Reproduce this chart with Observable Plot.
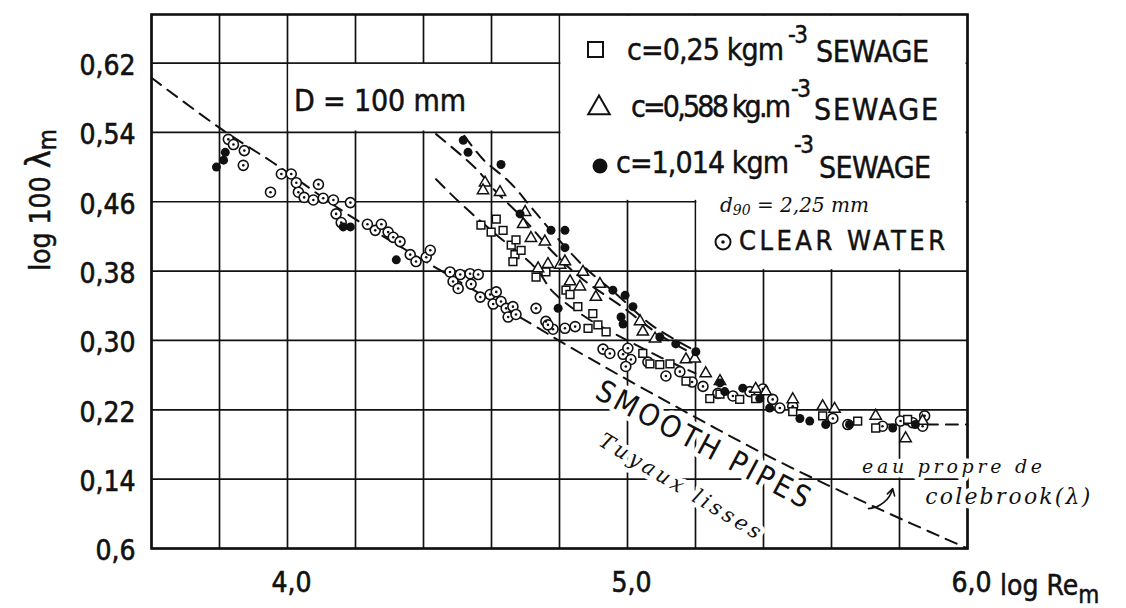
<!DOCTYPE html>
<html>
<head>
<meta charset="utf-8">
<script src="https://cdn.jsdelivr.net/npm/d3@7"></script>
<script src="https://cdn.jsdelivr.net/npm/@observablehq/plot@0.6"></script>
<style>
  html, body { margin: 0; padding: 0; background: #fff; }
  #chart svg { display: block; }
</style>
</head>
<body>
<div id="chart"></div>
<script>
// Technical lettering and the handwritten notes
const FONT = '"Liberation Sans Narrow","DejaVu Sans Condensed","DejaVu Sans",sans-serif';
const HAND = '"DejaVu Serif","Liberation Serif",serif';
const INK = "#111";

// Grid and tick labels (log Re_m on x, log 100 λ_m on y)
const xGrid = [3.6, 3.8, 4.0, 4.2, 4.4, 4.6, 4.8, 5.0, 5.2, 5.4, 5.6, 5.8, 6.0];
const yGrid = [0.06, 0.14, 0.22, 0.30, 0.38, 0.46, 0.54, 0.62];
const xTicks = [4.0, 5.0, 6.0];
const xTickLabels = ["4,0", "5,0", "6,0"];
const yTicks = [0.06, 0.14, 0.22, 0.30, 0.38, 0.46, 0.54, 0.62];
const yTickLabels = ["0,6", "0,14", "0,22", "0,30", "0,38", "0,46", "0,54", "0,62"];

// Measurements: [log Re_m, log 100 λ_m]
const clearWater = [
  [3.826,0.532],[3.841,0.526],[3.873,0.519],[3.870,0.502],[3.950,0.471],[3.982,0.492],
  [4.011,0.492],[4.026,0.482],[4.032,0.471],[4.049,0.465],[4.091,0.480],[4.076,0.462],
  [4.105,0.464],[4.135,0.462],[4.185,0.459],[4.143,0.446],[4.158,0.436],[4.235,0.434],
  [4.258,0.427],[4.276,0.434],[4.296,0.425],[4.311,0.419],[4.331,0.414],[4.361,0.399],
  [4.378,0.391],[4.408,0.396],[4.420,0.404],[4.478,0.379],[4.487,0.368],[4.508,0.376],
  [4.537,0.377],[4.540,0.365],[4.561,0.376],[4.502,0.360],[4.567,0.350],[4.596,0.353],
  [4.614,0.356],[4.605,0.342],[4.628,0.345],[4.643,0.337],[4.663,0.339],[4.649,0.327],
  [4.672,0.330],[4.731,0.337],[4.760,0.322],[4.781,0.313],[4.766,0.318],[4.816,0.314],
  [4.846,0.316],[4.928,0.290],[4.948,0.285],[4.987,0.284],[5.001,0.291],[5.010,0.278],
  [4.995,0.270],[5.060,0.275],[5.113,0.259],[5.154,0.264],[5.190,0.252],[5.222,0.247],
  [5.266,0.239],[5.310,0.236],[5.360,0.241],[5.398,0.244],[5.427,0.232],[5.448,0.222],
  [5.486,0.224],[5.604,0.210],[5.648,0.203],[5.750,0.201],[5.803,0.207],[5.839,0.205],
  [5.868,0.201],[5.874,0.213]
];
const sewage025 = [
  [4.569,0.433],[4.599,0.425],[4.614,0.440],[4.634,0.427],[4.658,0.410],[4.672,0.416],
  [4.669,0.399],[4.687,0.404],[4.663,0.391],[4.731,0.373],[4.760,0.379],[4.819,0.358],
  [4.831,0.353],[4.854,0.339],[4.898,0.331],[4.884,0.314],[4.913,0.318],[4.937,0.310],
  [5.045,0.285],[5.066,0.273],[5.095,0.272],[5.125,0.273],[5.172,0.253],[5.242,0.233],
  [5.272,0.238],[5.330,0.232],[5.377,0.233],[5.486,0.218],[5.574,0.213],[5.677,0.207],
  [5.730,0.199],[5.824,0.209]
];
const sewage0588 = [
  [4.581,0.482],[4.575,0.473],[4.625,0.471],[4.699,0.448],[4.693,0.434],[4.716,0.418],
  [4.757,0.414],[4.737,0.383],[4.766,0.388],[4.802,0.387],[4.816,0.391],[4.869,0.379],
  [4.860,0.362],[4.831,0.368],[4.919,0.365],[4.907,0.350],[5.037,0.322],[5.045,0.310],
  [5.081,0.302],[5.172,0.278],[5.198,0.279],[5.230,0.262],[5.272,0.253],[5.377,0.244],
  [5.407,0.241],[5.486,0.232],[5.574,0.224],[5.609,0.221],[5.730,0.213],[5.868,0.207],
  [5.818,0.187]
];
const sewage1014 = [
  [3.791,0.500],[3.817,0.517],[3.812,0.508],[4.164,0.431],[4.185,0.431],[4.320,0.393],
  [4.517,0.531],[4.531,0.517],[4.628,0.503],[4.684,0.446],[4.775,0.427],[4.816,0.427],
  [4.816,0.407],[4.796,0.337],[4.957,0.358],[4.993,0.352],[5.016,0.339],[4.981,0.327],
  [4.987,0.319],[5.095,0.304],[5.142,0.296],[5.201,0.287],[5.272,0.251],[5.286,0.241],
  [5.339,0.245],[5.389,0.233],[5.418,0.222],[5.507,0.210],[5.536,0.207],[5.583,0.203],
  [5.653,0.203],[5.780,0.199],[5.847,0.203]
];

// Fitted dashed curves
const smoothPipeCurve = [
  [3.600,0.603],[3.812,0.542],[3.958,0.505],[4.179,0.445],[4.449,0.381],[4.743,0.313],
  [4.819,0.295],[5.104,0.232],[5.427,0.164],[5.721,0.109],[6.000,0.060]
];
const roughAsymptote = [[5.76,0.203],[6.00,0.203]];
const curve025 = [
  [4.437,0.486],[4.496,0.463],[4.546,0.445],[4.614,0.422],[4.731,0.383],[4.781,0.356],
  [4.884,0.325],[5.000,0.300],[5.100,0.280],[5.200,0.262]
];
const curve0588 = [
  [4.437,0.538],[4.555,0.498],[4.605,0.475],[4.700,0.438],[4.780,0.402],[4.870,0.370],
  [4.980,0.340],[5.100,0.305],[5.200,0.283]
];
const curve1014 = [
  [4.520,0.536],[4.575,0.509],[4.655,0.482],[4.720,0.452],[4.796,0.417],[4.878,0.383],
  [4.960,0.356],[5.070,0.318],[5.190,0.290]
];

// White panels holding the diameter note and the legend
const labelBoxes = [
  {x1: 4.0, x2: 4.8, y1: 0.54, y2: 0.62},
  {x1: 4.8, x2: 6.0, y1: 0.46, y2: 0.676},
  {x1: 5.2, x2: 6.0, y1: 0.38, y2: 0.47}
];

const curves = [
  ["smooth", smoothPipeCurve], ["rough", roughAsymptote],
  ["c025", curve025], ["c0588", curve0588], ["c1014", curve1014]
].flatMap(([k, pts]) => pts.map(([x, y]) => ({k, x, y})));

const px = d => d[0], py = d => d[1];
const pick = (vals, labels) => d => labels[vals.findIndex(t => Math.abs(t - d) < 1e-6)];

const chart = Plot.plot({
  width: 1126,
  height: 608,
  marginLeft: 151,
  marginRight: 159,
  marginTop: 14,
  marginBottom: 60,
  style: {fontFamily: FONT, fontSize: "28px", color: INK, background: "white", overflow: "visible"},
  x: {domain: [3.6, 6.0]},
  y: {domain: [0.06, 0.676]},
  marks: [
    Plot.ruleX(xGrid, {stroke: INK, strokeWidth: 1.7}),
    Plot.ruleY(yGrid, {stroke: INK, strokeWidth: 1.7}),
    Plot.rect(labelBoxes, {x1: "x1", x2: "x2", y1: "y1", y2: "y2", fill: "white", inset: 1.4}),
    Plot.frame({stroke: INK, strokeWidth: 2.6}),
    Plot.line(curves, {x: "x", y: "y", z: "k", stroke: INK, strokeWidth: 2, strokeDasharray: "12,8", curve: "catmull-rom"}),
    Plot.arrow([{x1: 5.709, y1: 0.106, x2: 5.78, y2: 0.129}], {x1: "x1", y1: "y1", x2: "x2", y2: "y2", bend: -35, stroke: INK, strokeWidth: 1.6, headLength: 7}),
    Plot.dot(clearWater, {x: px, y: py, r: 5, fill: "white", stroke: INK, strokeWidth: 1.6}),
    Plot.dot(clearWater, {x: px, y: py, r: 1.3, fill: INK}),
    Plot.dot(sewage025, {x: px, y: py, symbol: "square", r: 4.4, fill: "white", stroke: INK, strokeWidth: 1.5}),
    Plot.dot(sewage0588, {x: px, y: py, symbol: "triangle", r: 4.2, fill: "white", stroke: INK, strokeWidth: 1.5}),
    Plot.dot(sewage1014, {x: px, y: py, r: 4.5, fill: INK}),
    Plot.axisX(xTicks, {tickSize: 0, tickPadding: 24, dx: 4, tickFormat: pick(xTicks, xTickLabels), label: null}),
    Plot.axisY(yTicks, {tickSize: 0, tickPadding: 16, dy: 3, tickFormat: pick(yTicks, yTickLabels), label: null})
  ]
});
document.getElementById("chart").append(chart);

const svg = d3.select(chart);
const sx = chart.scale("x"), sy = chart.scale("y");
const X = v => sx.apply(v), Y = v => sy.apply(v);

// Slightly heavier strokes for the stencil-style tick labels
svg.selectAll('g[aria-label="x-axis tick label"] text, g[aria-label="y-axis tick label"] text')
  .attr("stroke", INK).attr("stroke-width", 0.6);

// Notes along the curves: drawn under the dashed lines, with a white halo that breaks the grid
const firstLine = chart.querySelector('g[aria-label="line"]');
const notes = svg.insert("g", () => firstLine)
  .attr("stroke", "white").attr("stroke-width", 9).attr("stroke-linejoin", "round")
  .attr("paint-order", "stroke").attr("fill", INK);

function note(label, x, y, opts) {
  const t = notes.append("text")
    .attr("transform", `translate(${X(x)},${Y(y)}) rotate(${opts.rotate || 0})`)
    .attr("text-anchor", "middle").attr("dominant-baseline", "middle")
    .attr("font-family", opts.family || FONT).attr("font-size", opts.size)
    .attr("font-style", opts.italic ? "italic" : "normal")
    .text(label);
  if (opts.length) t.attr("textLength", opts.length).attr("lengthAdjust", "spacing");
  return t;
}
note("SMOOTH PIPES", 5.222, 0.178, {rotate: 28, size: 30, length: 238});
note("Tuyaux lisses", 5.154, 0.130, {rotate: 31, size: 21, italic: true, family: HAND, length: 185});
note("eau propre de", 5.956, 0.152, {size: 19, italic: true, family: HAND, length: 180});
note("colebrook(λ)", 6.12, 0.118, {size: 22, italic: true, family: HAND, length: 165});

// Pipe diameter inside its white panel
svg.append("text")
  .attr("x", X(4.0) + 7).attr("y", 111).attr("text-anchor", "start")
  .attr("font-family", FONT).attr("font-size", 30).attr("fill", INK)
  .attr("stroke", INK).attr("stroke-width", 0.5)
  .attr("textLength", 172).attr("lengthAdjust", "spacing")
  .text("D = 100 mm");

// Legend inside the stepped white panel
const lx = X(4.8) - 565;
const legend = svg.append("g").attr("font-family", FONT).attr("fill", INK).attr("text-anchor", "start");
function ltext(str, x, y, size, len) {
  const t = legend.append("text").attr("x", lx + x).attr("y", y).attr("font-size", size)
    .attr("stroke", INK).attr("stroke-width", 0.45).text(str);
  if (len) t.attr("textLength", len).attr("lengthAdjust", "spacing");
  return t;
}
legend.append("rect").attr("x", lx + 594).attr("y", 42).attr("width", 15).attr("height", 15)
  .attr("fill", "white").attr("stroke", INK).attr("stroke-width", 2);
ltext("c=0,25 kgm", 633, 60, 30, 157);
ltext("-3", 794, 43, 24, 20);
ltext("SEWAGE", 822, 62, 30, 113);

legend.append("path").attr("transform", `translate(${lx + 605},${108})`)
  .attr("d", d3.symbol(d3.symbolTriangle, 200)()).attr("fill", "white").attr("stroke", INK).attr("stroke-width", 2);
ltext("c=0,588 kg.m", 637, 117, 30, 160);
ltext("-3", 797, 97, 24, 20);
ltext("SEWAGE", 820, 120, 30, 124);

legend.append("circle").attr("cx", lx + 606).attr("cy", 166).attr("r", 7.5).attr("fill", INK);
ltext("c=1,014 kgm", 622, 173, 30, 173);
ltext("-3", 800, 153, 24, 20);
ltext("SEWAGE", 825, 178, 30, 112);

const d90 = ltext("d", 726, 212, 20).attr("font-family", HAND).attr("font-style", "italic").attr("stroke-width", 0);
d90.append("tspan").attr("font-size", 14).attr("dy", 3).text("90");
d90.append("tspan").attr("dy", -3).text(" = 2,25 mm");

legend.append("circle").attr("cx", lx + 729).attr("cy", 242).attr("r", 7.5)
  .attr("fill", "white").attr("stroke", INK).attr("stroke-width", 2);
legend.append("circle").attr("cx", lx + 729).attr("cy", 242).attr("r", 1.8).attr("fill", INK);
ltext("CLEAR WATER", 745, 250, 27, 206);

// Axis titles with subscripts
const ytitle = svg.append("text")
  .attr("transform", "translate(50,200) rotate(-90)")
  .attr("text-anchor", "middle").attr("font-family", FONT).attr("font-size", 28).attr("fill", INK)
  .attr("stroke", INK).attr("stroke-width", 0.5)
  .text("log 100 ");
ytitle.append("tspan").attr("font-size", 34).text("λ");
ytitle.append("tspan").attr("font-size", 24).attr("dy", 6).text("m");

const xtitle = svg.append("text")
  .attr("x", 1000).attr("y", 595).attr("text-anchor", "start")
  .attr("font-family", FONT).attr("font-size", 28).attr("fill", INK)
  .attr("stroke", INK).attr("stroke-width", 0.5)
  .text("log Re");
xtitle.append("tspan").attr("font-size", 24).attr("dy", 8).text("m");
</script>
</body>
</html>
